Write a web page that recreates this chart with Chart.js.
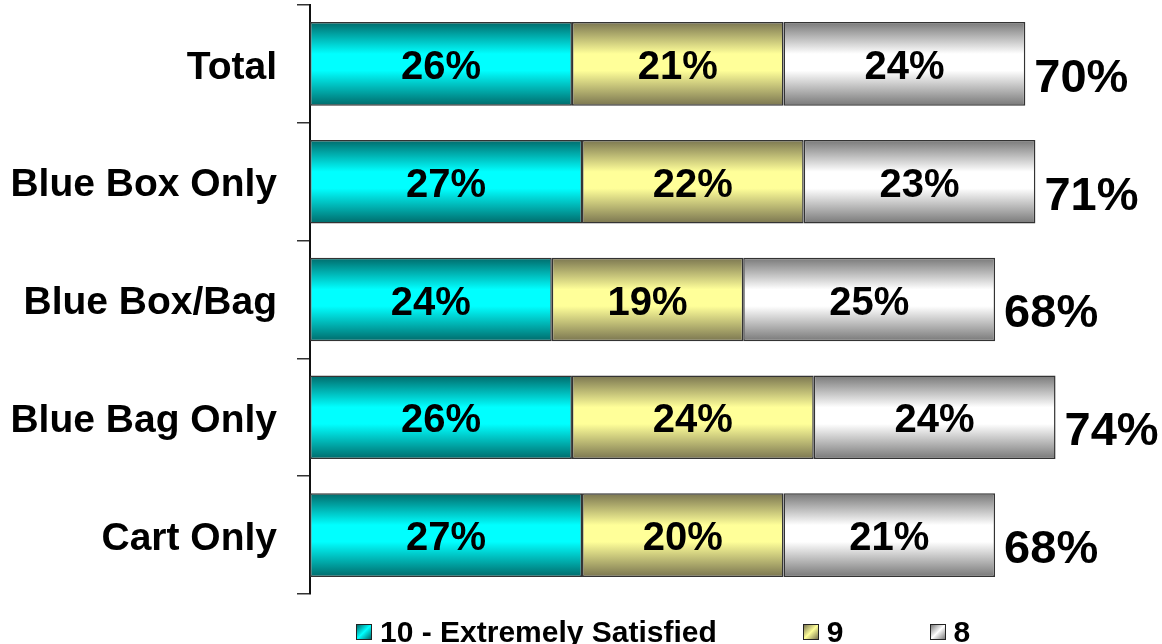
<!DOCTYPE html>
<html>
<head>
<meta charset="utf-8">
<script src="https://cdn.jsdelivr.net/npm/chart.js@4/dist/chart.umd.min.js"></script>
<style>
  html, body { margin: 0; padding: 0; background: #fff; }
  #wrap { position: relative; width: 1162px; height: 644px; overflow: hidden; }
  #legend {
    position: absolute; left: 356px; top: 615px;
    display: flex; align-items: center; gap: 86px;
    font: bold 30px "Liberation Sans", Arial, sans-serif; color: #000;
  }
  #legend .item { display: flex; align-items: center; gap: 8px; white-space: nowrap; }
  #legend .box { width: 14px; height: 14px; border: 1px solid #222; }
</style>
</head>
<body>
<div id="wrap">
  <canvas id="chart" width="1162" height="644"></canvas>
  <div id="legend"></div>
</div>
<script>
const categories = ['Total', 'Blue Box Only', 'Blue Box/Bag', 'Blue Bag Only', 'Cart Only'];
const seriesNames = ['10 - Extremely Satisfied', '9', '8'];
const score10 = [26, 27, 24, 26, 27];
const score9 = [21, 22, 19, 24, 20];
const score8 = [24, 23, 25, 24, 21];
const topThree = [70, 71, 68, 74, 68];

// dark edge / bright middle for each series
const shades = [
  { edge: '#006a6a', mid: '#00ffff' },
  { edge: '#7a7550', mid: '#ffff99' },
  { edge: '#787878', mid: '#ffffff' }
];
const barPct = 0.71;

function barFill(i) {
  return function (ctx) {
    const chart = ctx.chart;
    const y = chart.scales.y;
    if (!chart.chartArea || !y) return shades[i].mid;
    const c = y.getPixelForValue(ctx.dataIndex);
    const half = (y.height / categories.length) * barPct / 2;
    const g = chart.ctx.createLinearGradient(0, c - half, 0, c + half);
    g.addColorStop(0, shades[i].edge);
    g.addColorStop(0.38, shades[i].mid);
    g.addColorStop(0.58, shades[i].mid);
    g.addColorStop(1, shades[i].edge);
    return g;
  };
}

const valueLabels = {
  id: 'valueLabels',
  afterDatasetsDraw(chart) {
    const ctx = chart.ctx;
    ctx.save();
    ctx.fillStyle = '#000';
    ctx.textBaseline = 'middle';
    chart.data.datasets.forEach(function (ds, di) {
      const meta = chart.getDatasetMeta(di);
      meta.data.forEach(function (bar, j) {
        ctx.font = 'bold 40px "Liberation Sans", Arial, sans-serif';
        ctx.textAlign = 'center';
        ctx.fillText(ds.data[j] + '%', (bar.x + bar.base) / 2, bar.y + 4);
        if (di === chart.data.datasets.length - 1) {
          ctx.font = 'bold 47px "Liberation Sans", Arial, sans-serif';
          ctx.textAlign = 'left';
          ctx.fillText(topThree[j] + '%', bar.x + 9, bar.y + 15);
        }
      });
    });
    ctx.restore();
  }
};

const seriesValues = [score10, score9, score8];

new Chart(document.getElementById('chart'), {
  type: 'bar',
  data: {
    labels: categories,
    datasets: seriesValues.map(function (vals, i) {
      return {
        label: seriesNames[i],
        data: vals,
        backgroundColor: barFill(i),
        borderColor: '#333',
        borderWidth: 1.5,
        borderSkipped: false,
        categoryPercentage: 1,
        barPercentage: barPct
      };
    })
  },
  options: {
    indexAxis: 'y',
    responsive: false,
    animation: false,
    layout: { padding: { top: 5, bottom: 50, left: 0, right: 46 } },
    plugins: { legend: { display: false }, tooltip: { enabled: false } },
    scales: {
      x: { stacked: true, min: 0, max: 80, display: false },
      y: {
        stacked: true,
        afterFit: function (scale) {
          scale.width = 310;
          scale.paddingTop = 0;
          scale.paddingBottom = 0;
        },
        border: { display: true, color: '#111', width: 2 },
        grid: { display: true, drawOnChartArea: false, offset: true, tickLength: 13, color: '#333', lineWidth: 1.5 },
        ticks: {
          color: '#000',
          padding: 20,
          labelOffset: 4,
          font: { family: '"Liberation Sans", Arial, sans-serif', size: 39, weight: 'bold' }
        }
      }
    }
  },
  plugins: [valueLabels]
});

// legend row under the plot
const legend = document.getElementById('legend');
seriesNames.forEach(function (name, i) {
  const item = document.createElement('div');
  item.className = 'item';
  const box = document.createElement('span');
  box.className = 'box';
  box.style.background = 'linear-gradient(135deg, ' + shades[i].edge + ', ' + shades[i].mid + ' 50%, ' + shades[i].edge + ')';
  const txt = document.createElement('span');
  txt.textContent = name;
  item.appendChild(box);
  item.appendChild(txt);
  legend.appendChild(item);
});
</script>
</body>
</html>
